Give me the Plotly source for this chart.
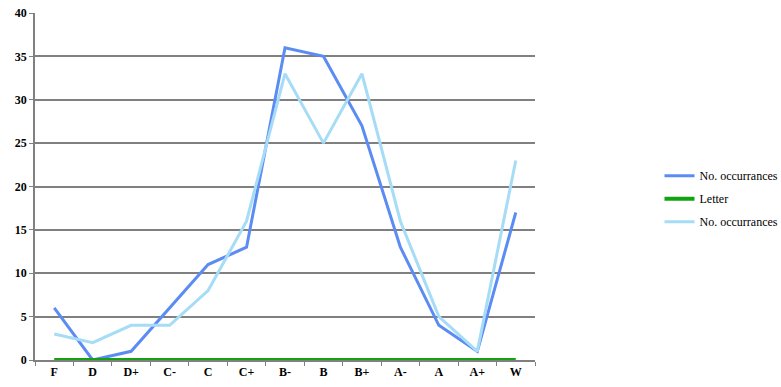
import plotly.graph_objects as go

grades = ["F", "D", "D+", "C-", "C", "C+", "B-", "B", "B+", "A-", "A", "A+", "W"]
occurrences_1 = [6, 0, 1, 6, 11, 13, 36, 35, 27, 13, 4, 1, 17]
letter = [0] * len(grades)
occurrences_2 = [3, 2, 4, 4, 8, 16, 33, 25, 33, 16, 5, 1, 23]
y_ticks = [0, 5, 10, 15, 20, 25, 30, 35, 40]

serif = "Liberation Serif"

fig = go.Figure()
fig.add_trace(go.Scatter(x=grades, y=occurrences_1, mode="lines", name="No. occurrances",
                         legendgroup="a", line=dict(color="#5b8cf3", width=3)))
fig.add_trace(go.Scatter(x=grades, y=letter, mode="lines", name="Letter",
                         legendgroup="b", line=dict(color="#12a312", width=4)))
fig.add_trace(go.Scatter(x=grades, y=occurrences_2, mode="lines", name="No. occurrances",
                         legendgroup="c", line=dict(color="#a6dcf6", width=3)))

fig.update_layout(
    width=781, height=387,
    margin=dict(l=35, r=246, t=13, b=27, autoexpand=False),
    paper_bgcolor="white", plot_bgcolor="white",
    font=dict(family=serif, size=12, color="black"),
    legend=dict(x=1.249, y=0.465, xanchor="left", yanchor="middle",
                font=dict(family=serif, size=12, color="black"),
                itemwidth=30, tracegroupgap=4, bgcolor="rgba(0,0,0,0)"),
    showlegend=True,
)
fig.update_xaxes(
    type="category", tickson="boundaries", ticks="outside", ticklen=4,
    tickcolor="#808080", showline=True, linecolor="#808080", linewidth=1.5,
    showgrid=False, tickfont=dict(family=serif, size=12, color="black", weight="bold"),
    range=[-0.5, 12.5],
)
fig.update_yaxes(
    range=[0, 40], tickvals=y_ticks, ticks="outside", ticklen=4,
    tickcolor="#808080", showline=True, linecolor="#808080", linewidth=1.5,
    showgrid=True, gridcolor="#808080", gridwidth=1.5, zeroline=False,
    tickfont=dict(family=serif, size=12, color="black", weight="bold"),
)

fig.write_html("out.html")
